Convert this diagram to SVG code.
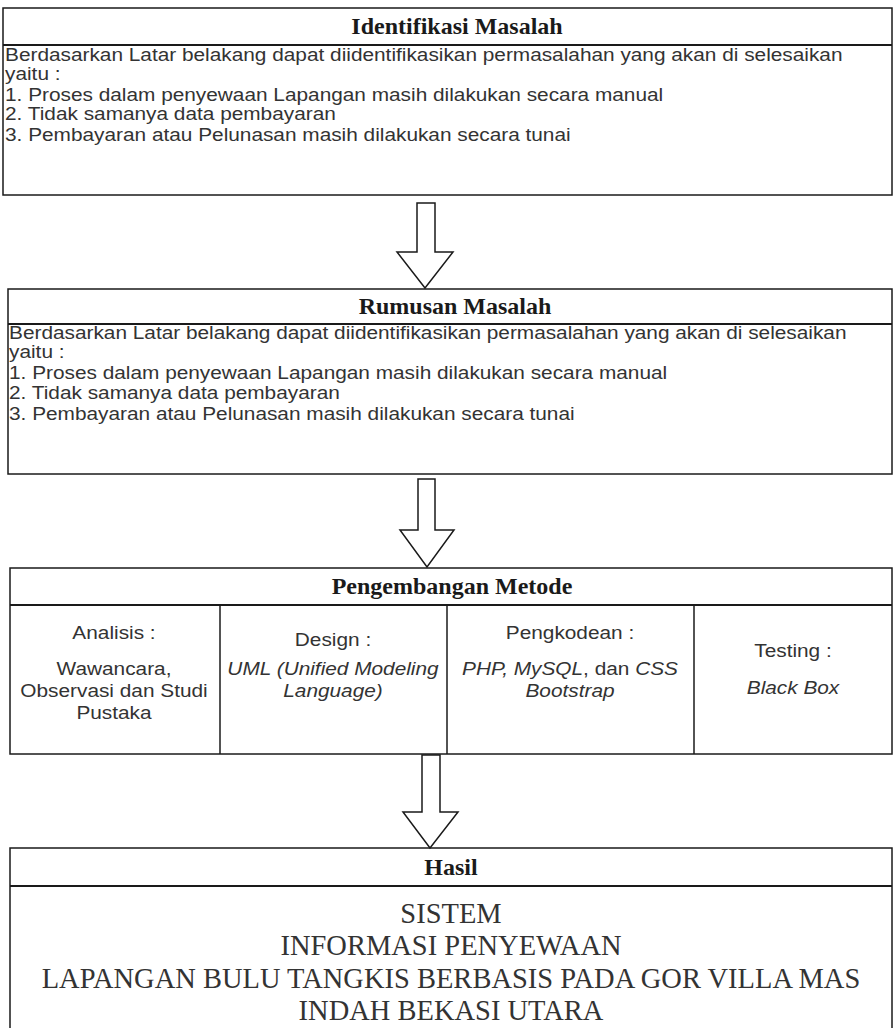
<svg xmlns="http://www.w3.org/2000/svg" width="893" height="1028" viewBox="0 0 893 1028">
<style>
.box{fill:#fff;stroke:#1a1a1a;stroke-width:1.5}
.sep{fill:none;stroke:#1a1a1a;stroke-width:2}
.div{fill:none;stroke:#1a1a1a;stroke-width:1.5}
.ttl{font-family:"Liberation Serif","Times New Roman",serif;font-weight:bold;font-size:24px;fill:#1a1a1a;text-anchor:middle}
.txt{font-family:"Liberation Sans",Arial,sans-serif;font-size:17.5px;fill:#333}
.ctr{font-family:"Liberation Sans",Arial,sans-serif;font-size:17.5px;fill:#333;text-anchor:middle}
.it{font-style:italic}
.res{font-family:"Liberation Serif","Times New Roman",serif;font-size:30px;fill:#333;text-anchor:middle}
.arr{fill:#fff;stroke:#1a1a1a;stroke-width:1.5;stroke-linejoin:miter}
</style>
<rect width="893" height="1028" fill="#fff"/>
<g id="identifikasi">
<rect class="box" x="3" y="8" width="889" height="187"/>
<line class="sep" x1="3" y1="45" x2="892" y2="45"/>
<text class="ttl" x="457" y="34">Identifikasi Masalah</text>
<g transform="translate(5,0) scale(1.19,1)">
<text class="txt" x="0" y="61">Berdasarkan Latar belakang dapat diidentifikasikan permasalahan yang akan di selesaikan</text>
<text class="txt" x="0" y="80">yaitu :</text>
<text class="txt" x="0" y="101">1. Proses dalam penyewaan Lapangan masih dilakukan secara manual</text>
<text class="txt" x="0" y="120">2. Tidak samanya data pembayaran</text>
<text class="txt" x="0" y="141">3. Pembayaran atau Pelunasan masih dilakukan secara tunai</text>
</g>
</g>
<g id="rumusan">
<rect class="box" x="8" y="289" width="884" height="185"/>
<line class="sep" x1="8" y1="324" x2="892" y2="324"/>
<text class="ttl" x="455" y="314">Rumusan Masalah</text>
<g transform="translate(9,0) scale(1.19,1)">
<text class="txt" x="0" y="339">Berdasarkan Latar belakang dapat diidentifikasikan permasalahan yang akan di selesaikan</text>
<text class="txt" x="0" y="358">yaitu :</text>
<text class="txt" x="0" y="379">1. Proses dalam penyewaan Lapangan masih dilakukan secara manual</text>
<text class="txt" x="0" y="399">2. Tidak samanya data pembayaran</text>
<text class="txt" x="0" y="420">3. Pembayaran atau Pelunasan masih dilakukan secara tunai</text>
</g>
</g>
<g id="pengembangan">
<rect class="box" x="10" y="568" width="882" height="186"/>
<line class="sep" x1="10" y1="605" x2="892" y2="605"/>
<text class="ttl" x="452" y="594">Pengembangan Metode</text>
<line class="div" x1="220" y1="605" x2="220" y2="754"/>
<line class="div" x1="447" y1="605" x2="447" y2="754"/>
<line class="div" x1="694" y1="605" x2="694" y2="754"/>
<g id="analisis" transform="translate(114,0) scale(1.19,1)">
<text class="ctr" x="0" y="639">Analisis :</text>
<text class="ctr" x="0" y="675">Wawancara,</text>
<text class="ctr" x="0" y="697">Observasi dan Studi</text>
<text class="ctr" x="0" y="719">Pustaka</text>
</g>
<g id="design" transform="translate(333,0) scale(1.19,1)">
<text class="ctr" x="0" y="646">Design :</text>
<text class="ctr it" x="0" y="675">UML (Unified Modeling</text>
<text class="ctr it" x="0" y="697">Language)</text>
</g>
<g id="pengkodean" transform="translate(570,0) scale(1.19,1)">
<text class="ctr" x="0" y="639">Pengkodean :</text>
<text class="ctr" x="0" y="675"><tspan class="it">PHP, MySQL</tspan>, dan <tspan class="it">CSS</tspan></text>
<text class="ctr it" x="0" y="697">Bootstrap</text>
</g>
<g id="testing" transform="translate(793,0) scale(1.19,1)">
<text class="ctr" x="0" y="657">Testing :</text>
<text class="ctr it" x="0" y="694">Black Box</text>
</g>
</g>
<g id="hasil">
<rect class="box" x="10" y="848" width="882" height="200"/>
<line class="sep" x1="10" y1="886" x2="892" y2="886"/>
<text class="ttl" x="451" y="875">Hasil</text>
<g transform="translate(451,0) scale(0.95,1)">
<text class="res" x="0" y="923">SISTEM</text>
<text class="res" x="0" y="955">INFORMASI PENYEWAAN</text>
<text class="res" x="0" y="988">LAPANGAN BULU TANGKIS BERBASIS PADA GOR VILLA MAS</text>
<text class="res" x="0" y="1020">INDAH BEKASI UTARA</text>
</g>
</g>
<g id="connectors">
<polygon class="arr" points="417,203 435,203 435,252 453,252 425,288 397,252 417,252"/>
<polygon class="arr" points="418,479 435,479 435,530 454,530 427,567 400,530 418,530"/>
<polygon class="arr" points="422,755 440,755 440,812 458,812 430,848 403,812 422,812"/>
</g>
</svg>
